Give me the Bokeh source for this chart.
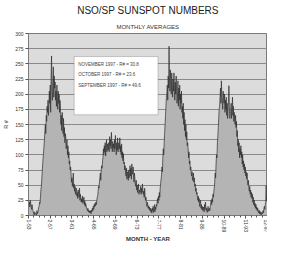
import math
from bokeh.plotting import figure
from bokeh.models import FixedTicker, Title, BoxAnnotation, Label, ColumnDataSource, Range1d
from bokeh.embed import file_html
from bokeh.resources import INLINE

# Monthly averaged sunspot numbers, Jan 1953 - Nov 1997
r_1953_1959 = [
    28, 18, 22, 14, 25, 20, 15, 10, 18, 12, 8, 6,
    1, 0, 6, 4, 2, 3, 1, 8, 3, 5, 9, 14,
    15, 22, 20, 30, 42, 48, 60, 72, 85, 95, 105, 115,
    125, 140, 150, 135, 165, 155, 180, 170, 190, 165, 185, 205,
    185, 215, 170, 230, 263, 205, 190, 220, 245, 195, 230, 210,
    220, 190, 205, 180, 215, 195, 175, 205, 185, 200, 170, 190,
    180, 150, 165, 140, 170, 155, 135, 160, 130, 145, 120, 135,
]
r_1960_1969 = [
    130, 110, 120, 125, 100, 115, 95, 105, 85, 90, 75, 80,
    68, 55, 62, 48, 58, 70, 45, 52, 40, 48, 35, 42,
    45, 32, 38, 28, 42, 35, 30, 45, 25, 35, 28, 22,
    28, 22, 32, 20, 25, 30, 18, 24, 15, 20, 16, 12,
    10, 8, 12, 6, 9, 5, 7, 4, 8, 3, 9, 6,
    12, 8, 15, 10, 18, 14, 20, 16, 22, 18, 25, 30,
    32, 40, 48, 45, 55, 62, 70, 58, 75, 82, 78, 90,
    95, 110, 100, 115, 105, 120, 98, 112, 125, 105, 118, 110,
    108, 120, 105, 130, 115, 125, 110, 137, 118, 105, 122, 112,
    118, 105, 125, 110, 132, 115, 100, 120, 108, 128, 105, 115,
]
r_1970_1979 = [
    120, 110, 128, 105, 115, 100, 118, 95, 105, 90, 102, 85,
    88, 75, 82, 70, 65, 78, 60, 72, 68, 58, 75, 62,
    70, 82, 65, 78, 60, 85, 72, 68, 80, 62, 55, 70,
    60, 52, 48, 58, 42, 50, 38, 45, 52, 35, 42, 38,
    40, 48, 35, 45, 38, 52, 42, 35, 40, 30, 45, 32,
    25, 30, 20, 15, 22, 18, 12, 16, 10, 14, 8, 12,
    6, 10, 4, 12, 8, 15, 5, 9, 18, 6, 14, 10,
    18, 15, 22, 28, 20, 32, 25, 38, 30, 45, 52, 60,
    65, 80, 72, 95, 110, 100, 120, 135, 150, 165, 180, 195,
    200, 215, 190, 230, 210, 279, 225, 205, 240, 220, 200, 235,
]
r_1980_1989 = [
    215, 195, 225, 205, 235, 210, 190, 220, 200, 230, 205, 185,
    195, 222, 180, 210, 190, 215, 175, 200, 185, 205, 170, 180,
    160, 185, 150, 170, 140, 158, 130, 150, 125, 138, 115, 120,
    110, 95, 105, 85, 90, 75, 80, 70, 65, 72, 58, 62,
    70, 55, 62, 48, 52, 40, 45, 35, 38, 30, 25, 32,
    22, 28, 15, 20, 25, 12, 18, 10, 15, 8, 12, 14,
    6, 18, 10, 22, 14, 8, 12, 5, 9, 15, 7, 10,
    12, 8, 15, 20, 25, 18, 28, 22, 35, 30, 40, 45,
    55, 70, 62, 85, 100, 95, 120, 130, 145, 160, 175, 180,
    195, 210, 185, 222, 200, 190, 175, 205, 195, 185, 200, 170,
]
r_1990_1997 = [
    190, 175, 195, 165, 185, 160, 175, 190, 214, 180, 160, 170,
    170, 185, 160, 175, 195, 165, 180, 155, 170, 160, 150, 165,
    145, 155, 130, 140, 115, 125, 105, 120, 95, 110, 100, 115,
    95, 105, 85, 100, 80, 90, 75, 85, 70, 80, 65, 72,
    60, 70, 55, 50, 58, 45, 40, 48, 35, 42, 30, 38,
    28, 35, 22, 30, 18, 25, 15, 20, 12, 18, 10, 14,
    8, 12, 6, 4, 9, 3, 7, 2, 5, 1, 4, 6,
    3, 8, 5, 12, 15, 10, 18, 22, 49.6, 23.6, 30.8,
]

x_tick_labels = ["1-53", "2-57", "3-61", "4-65", "5-69", "6-73",
                 "7-77", "8-81", "9-85", "10-89", "11-93", "12-97"]
y_ticks = list(range(0, 301, 25))
note_lines = ["NOVEMBER 1997 - R# = 30.8",
              "OCTOBER 1997 - R# = 23.6",
              "SEPTEMBER 1997 - R# = 49.6"]

values = r_1953_1959 + r_1960_1969 + r_1970_1979 + r_1980_1989 + r_1990_1997
months = list(range(len(values)))
src = ColumnDataSource(dict(m=months, r=values))

step = 49
x_ticks = [step * k for k in range(len(x_tick_labels))]
minor = [t + step * j / 4 for t in x_ticks[:-1] for j in (1, 2, 3)]

FONT = "Liberation Sans"

p = figure(width=267, height=245, output_backend="svg", toolbar_location=None,
           x_range=Range1d(0, x_ticks[-1]), y_range=Range1d(0, 300),
           min_border_left=25, min_border_right=0, min_border_top=0, min_border_bottom=0)
p.title.visible = False
p.background_fill_color = "#dcdcdc"
p.border_fill_color = "white"
p.outline_line_color = "#7a7a7a"
p.xgrid.visible = False
p.ygrid.grid_line_color = "#8a8a8a"
p.ygrid.grid_line_width = 1

p.varea(x="m", y1=0, y2="r", source=src, fill_color="#b4b4b4")
p.line(x="m", y="r", source=src, line_color="#2e2e2e", line_width=0.7)

p.add_layout(BoxAnnotation(left=103, right=292, bottom=166, top=262,
                           fill_color="white", fill_alpha=1.0,
                           line_color="#555555", line_width=1))
for i, t in enumerate(note_lines):
    p.add_layout(Label(x=112, y=249 - 17 * i, text=t, text_font=FONT,
                       text_font_size="4.5px", text_color="#444444",
                       text_baseline="middle"))

p.xaxis.ticker = FixedTicker(ticks=x_ticks, minor_ticks=minor)
p.xaxis.major_label_overrides = {t: l for t, l in zip(x_ticks, x_tick_labels)}
p.xaxis.major_label_orientation = "vertical"
p.yaxis.ticker = FixedTicker(ticks=y_ticks)
p.xaxis.axis_label = "MONTH - YEAR"
p.yaxis.axis_label = "R #"
for ax in (p.xaxis[0], p.yaxis[0]):
    ax.axis_line_color = "#7a7a7a"
    ax.major_tick_line_color = "#555555"
    ax.minor_tick_line_color = "#555555"
    ax.major_tick_in = 0
    ax.major_tick_out = 3
    ax.minor_tick_in = 0
    ax.minor_tick_out = 2
    ax.major_label_text_font = FONT
    ax.major_label_text_font_size = "5px"
    ax.major_label_text_color = "#333333"
    ax.major_label_standoff = 2
    ax.axis_label_text_font = FONT
    ax.axis_label_text_font_size = "5.5px"
    ax.axis_label_text_font_style = "normal"
    ax.axis_label_text_color = "#333333"
    ax.axis_label_standoff = 3
p.yaxis.minor_tick_out = 0
p.xaxis.major_label_standoff = 1
p.xaxis.axis_label_text_font_size = "6px"
p.xaxis.axis_label_text_font_style = "bold"
p.xaxis.axis_label_standoff = 1

p.add_layout(Title(text="MONTHLY AVERAGES", align="center", text_font=FONT,
                   text_font_size="6px", text_font_style="normal",
                   text_color="#333333", standoff=8), "above")
p.add_layout(Title(text="NSO/SP SUNSPOT NUMBERS", align="center", text_font=FONT,
                   text_font_size="10px", text_font_style="normal",
                   text_color="#222222", standoff=4), "above")

open("out.html", "w").write(file_html(p, INLINE))
